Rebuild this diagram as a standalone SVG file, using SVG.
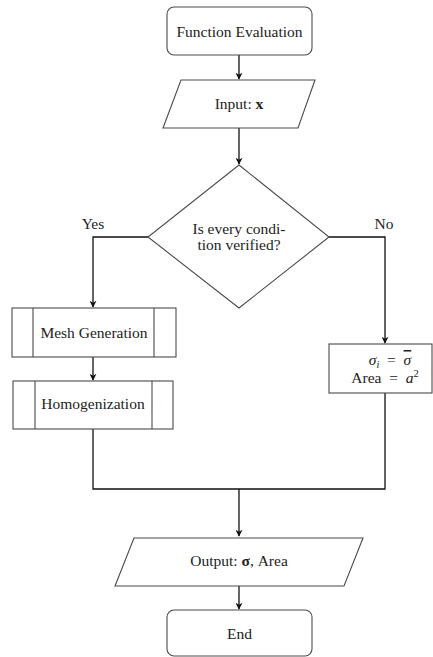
<svg xmlns="http://www.w3.org/2000/svg" width="433" height="657" viewBox="0 0 433 657">
<style>
.n{fill:#fff;stroke:#4a4a4a;stroke-width:1.1}
.t{font-family:"Liberation Serif","DejaVu Serif",serif;font-size:15.5px;fill:#222;text-anchor:middle}
.c{fill:none;stroke:#111;stroke-width:1.3}
</style>
<defs>
<marker id="ah" viewBox="0 0 10 10" refX="9" refY="5" markerWidth="7" markerHeight="7" markerUnits="userSpaceOnUse" orient="auto">
<path d="M0,0 L10,5 L0,10 L3,5 Z" fill="#111"/>
</marker>
</defs>
<rect width="433" height="657" fill="#fff"/>
<g id="connectors">
<path class="c" d="M239,55 V79" marker-end="url(#ah)"/>
<path class="c" d="M239,128 V164" marker-end="url(#ah)"/>
<path class="c" d="M148,237 H93 V307" marker-end="url(#ah)"/>
<path class="c" d="M329,237 H385 V343" marker-end="url(#ah)"/>
<path class="c" d="M93,357 V380" marker-end="url(#ah)"/>
<path class="c" d="M93,429 V489 H385 V393"/>
<path class="c" d="M239,489 V536" marker-end="url(#ah)"/>
<path class="c" d="M239,586 V609" marker-end="url(#ah)"/>
</g>
<g id="start">
<rect class="n" x="167" y="7" width="145" height="48" rx="7"/>
<text class="t" x="239.5" y="37">Function Evaluation</text>
</g>
<g id="input">
<polygon class="n" points="181,80 315,80 298,128 163,128"/>
<text class="t" x="239" y="109">Input: <tspan font-weight="bold">x</tspan></text>
</g>
<g id="decision">
<polygon class="n" points="239,165 329,237 239,308 148,237"/>
<text class="t" x="239" y="234">Is every condi-</text>
<text class="t" x="239" y="250">tion verified?</text>
</g>
<g id="label-yes"><text class="t" x="93" y="229">Yes</text></g>
<g id="label-no"><text class="t" x="384" y="229">No</text></g>
<g id="mesh">
<rect class="n" x="12" y="308" width="164" height="49"/>
<line class="n" x1="33" y1="308" x2="33" y2="357"/>
<line class="n" x1="154" y1="308" x2="154" y2="357"/>
<text class="t" x="94" y="338">Mesh Generation</text>
</g>
<g id="homog">
<rect class="n" x="13" y="381" width="160" height="48"/>
<line class="n" x1="35" y1="381" x2="35" y2="429"/>
<line class="n" x1="152" y1="381" x2="152" y2="429"/>
<text class="t" x="93" y="409">Homogenization</text>
</g>
<g id="penalty">
<rect class="n" x="329" y="344" width="103" height="49"/>
<text class="t" x="390" y="365"><tspan font-style="italic">σ</tspan><tspan font-style="italic" font-size="10.5" dy="3">i</tspan><tspan dy="-3">&#160;&#160;=&#160;&#160;</tspan><tspan font-style="italic" text-decoration="overline">σ</tspan></text>
<text class="t" x="385" y="383">Area&#160;&#160;=&#160;&#160;<tspan font-style="italic">a</tspan><tspan font-size="10.5" dy="-6">2</tspan></text>
</g>
<g id="output">
<polygon class="n" points="134,538 363,538 344,586 115,586"/>
<text class="t" x="239" y="566">Output: <tspan font-weight="bold">σ</tspan>, Area</text>
</g>
<g id="end">
<rect class="n" x="167" y="610" width="145" height="46" rx="7"/>
<text class="t" x="239.5" y="639">End</text>
</g>
</svg>
